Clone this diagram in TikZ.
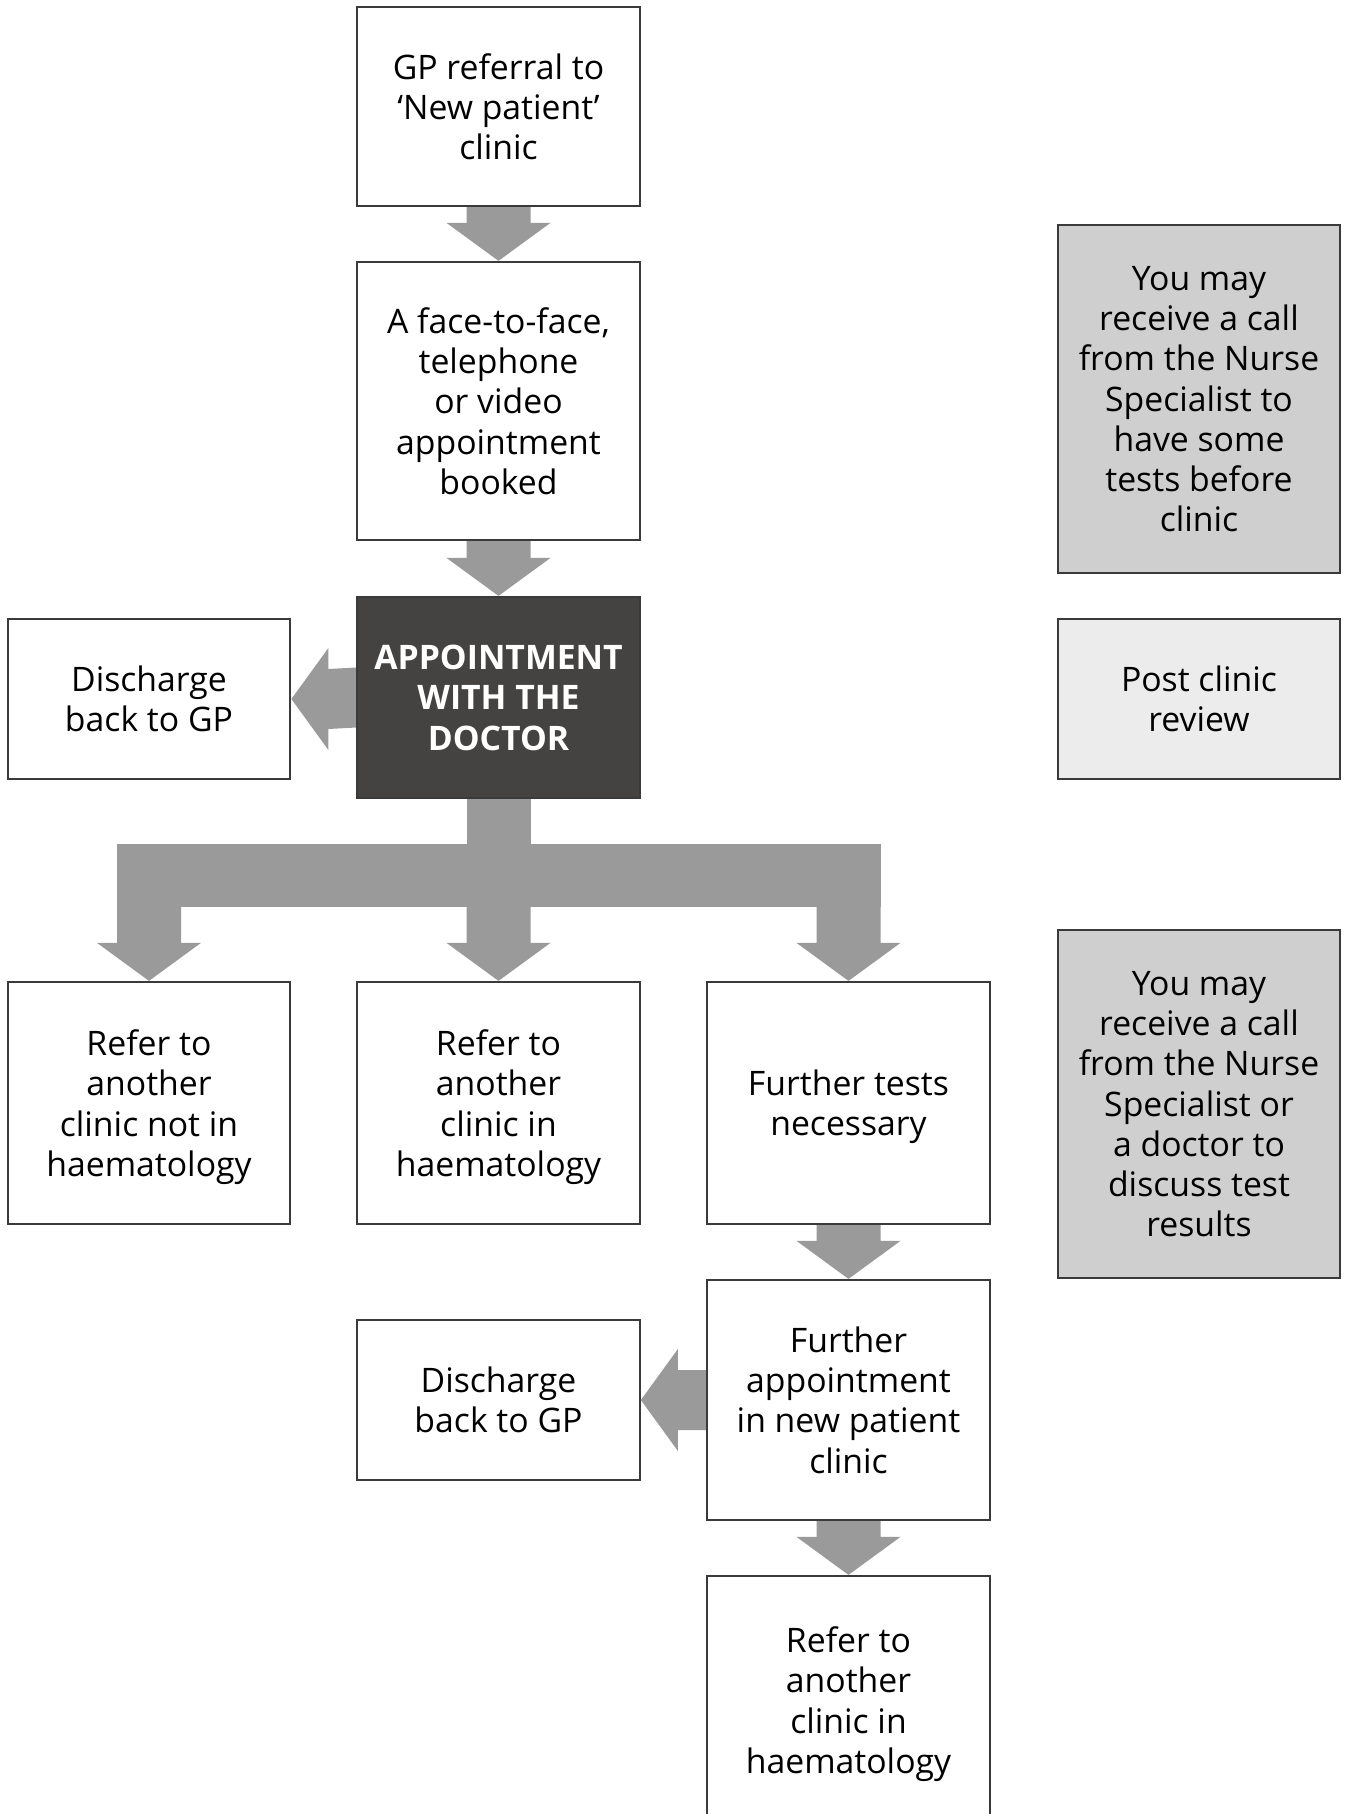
\documentclass[tikz,border=0pt]{standalone}
\usepackage{fontspec}
\setmainfont{Open Sans}
\usetikzlibrary{calc,backgrounds}

\definecolor{framegray}{HTML}{3A3A3A}
\definecolor{arrowgray}{HTML}{9A9A9A}
\definecolor{doctorfill}{HTML}{454341}
\definecolor{notefill}{HTML}{CFCFCF}
\definecolor{reviewfill}{HTML}{ECECEC}

\tikzset{
	box/.style={draw=framegray, line width=0.6pt, fill=white, align=center, inner sep=0pt,
		minimum width=2.825cm, font=\fontsize{9.6}{11.45}\selectfont, text depth=-0.6pt},
	doctorbox/.style={box, fill=doctorfill, text=white, font=\fontsize{9.6}{11.45}\selectfont\bfseries},
	notebox/.style={box, fill=notefill},
	reviewbox/.style={box, fill=reviewfill},
	fatarrow/.style={fill=arrowgray}
}

\begin{document}
\begin{tikzpicture}[x=0.01cm, y=-0.01cm]
	\newcommand{\flowdown}[2]{\fill[fatarrow] ($#1+(-32,0)$) -- ($#1+(32,0)$) -- ($#2+(32,-38)$) -- ($#2+(52,-38)$) -- #2 -- ($#2+(-52,-38)$) -- ($#2+(-32,-38)$) -- cycle;}
	\newcommand{\flowleft}[2]{\fill[fatarrow] ($#1+(0,-30)$) -- ($#1+(0,30)$) -- ($#2+(37,30)$) -- ($#2+(37,51)$) -- #2 -- ($#2+(37,-51)$) -- ($#2+(37,-30)$) -- cycle;}
	\useasboundingbox (0,0) rectangle (1349,1814);
	\node[box, minimum height=1.99cm](gp) at (498.5,106.5){GP referral to\\‘New patient’\\clinic};
	\node[box, minimum height=2.78cm](booked) at (498.5,401){A face-to-face,\\telephone\\or video\\appointment\\booked};
	\node[doctorbox, minimum height=2.01cm](doctor) at (498.5,697.5){APPOINTMENT\\WITH THE\\DOCTOR};
	\node[box, minimum height=1.6cm](dischargeA) at (149,699){Discharge\\back to GP};
	\node[notebox, minimum height=3.47cm](callA) at (1199,399){You may\\receive a call\\from the Nurse\\Specialist to\\have some\\tests before\\clinic};
	\node[reviewbox, minimum height=1.6cm](review) at (1199,699){Post clinic\\review};
	\node[notebox, minimum height=3.47cm](callB) at (1199,1104){You may\\receive a call\\from the Nurse\\Specialist or\\a doctor to\\discuss test\\results};
	\node[box, minimum height=2.42cm](referout) at (149,1103){Refer to\\another\\clinic not in\\haematology};
	\node[box, minimum height=2.42cm](referin) at (498.5,1103){Refer to\\another\\clinic in\\haematology};
	\node[box, minimum height=2.42cm](tests) at (848.5,1103){Further tests\\necessary};
	\node[box, minimum height=2.4cm](followup) at (848.5,1400){Further\\appointment\\in new patient\\clinic};
	\node[box, minimum height=1.6cm](dischargeB) at (498.5,1400){Discharge\\back to GP};
	\node[box, minimum height=2.48cm](referlater) at (848.5,1700){Refer to\\another\\clinic in\\haematology};
	\coordinate(forkA) at ($(referout.north)+(0,-100)$);
	\coordinate(forkB) at ($(referin.north)+(0,-100)$);
	\coordinate(forkC) at ($(tests.north)+(0,-100)$);
	\begin{scope}[on background layer]
		\flowdown{(gp.south)}{(booked.north)}
		\flowdown{(booked.south)}{(doctor.north)}
		\flowleft{(doctor.west)}{(dischargeA.east)}
		\fill[fatarrow] ($(doctor.south)+(-32,0)$) rectangle ($(forkB)+(32,0)$);
		\fill[fatarrow] ($(referout.north)+(-32,-137)$) rectangle ($(tests.north)+(32,-74)$);
		\flowdown{(forkA)}{(referout.north)}
		\flowdown{(forkB)}{(referin.north)}
		\flowdown{(forkC)}{(tests.north)}
		\flowdown{(tests.south)}{(followup.north)}
		\flowleft{(followup.west)}{(dischargeB.east)}
		\flowdown{(followup.south)}{(referlater.north)}
	\end{scope}
\end{tikzpicture}
\end{document}
